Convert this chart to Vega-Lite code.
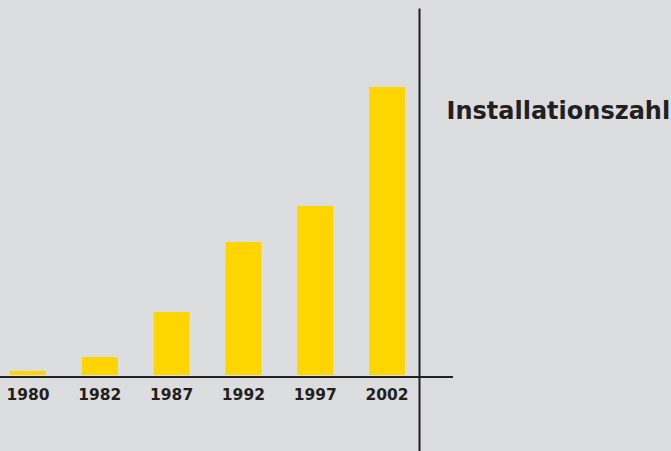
{
  "$schema": "https://vega.github.io/schema/vega-lite/v6.json",
  "width": 453,
  "height": 443,
  "autosize": {"type": "none"},
  "padding": {"left": 0, "top": 8, "right": 218, "bottom": 0},
  "background": "#dcdddf",
  "config": {
    "view": {"stroke": null},
    "font": "DejaVu Sans"
  },
  "data": {
    "values": [
      {"jahr": "1980", "wert": 4},
      {"jahr": "1982", "wert": 18},
      {"jahr": "1987", "wert": 63},
      {"jahr": "1992", "wert": 133},
      {"jahr": "1997", "wert": 169},
      {"jahr": "2002", "wert": 288}
    ]
  },
  "layer": [
    {
      "mark": {"type": "bar", "color": "#ffd500"},
      "encoding": {
        "x": {
          "field": "jahr",
          "type": "ordinal",
          "sort": null,
          "scale": {"range": [0, 415], "paddingInner": 0.5, "paddingOuter": 0.14},
          "axis": {
            "orient": "bottom",
            "offset": -74,
            "title": null,
            "domain": false,
            "ticks": false,
            "labelAngle": 0,
            "labelFont": "DejaVu Sans",
            "labelFontSize": 15.5,
            "labelFontWeight": "bold",
            "labelColor": "#231f20",
            "labelBaseline": "alphabetic",
            "labelPadding": 22
          }
        },
        "y": {
          "field": "wert",
          "type": "quantitative",
          "scale": {"domain": [-76, 367], "nice": false, "zero": false},
          "axis": {
            "orient": "right",
            "offset": -34,
            "domain": true,
            "domainColor": "#231f20",
            "domainWidth": 2,
            "ticks": false,
            "labels": false,
            "grid": false,
            "title": "Installationszahl",
            "titleAngle": 0,
            "titleAlign": "left",
            "titleBaseline": "alphabetic",
            "titleX": 27,
            "titleY": 110,
            "titleFont": "DejaVu Sans",
            "titleFontSize": 24,
            "titleFontWeight": "bold",
            "titleColor": "#231f20"
          }
        },
        "y2": {"datum": 0}
      }
    },
    {
      "mark": {"type": "rule", "color": "#231f20", "strokeWidth": 1.2},
      "encoding": {
        "y": {"datum": -2, "type": "quantitative"}
      }
    }
  ]
}
